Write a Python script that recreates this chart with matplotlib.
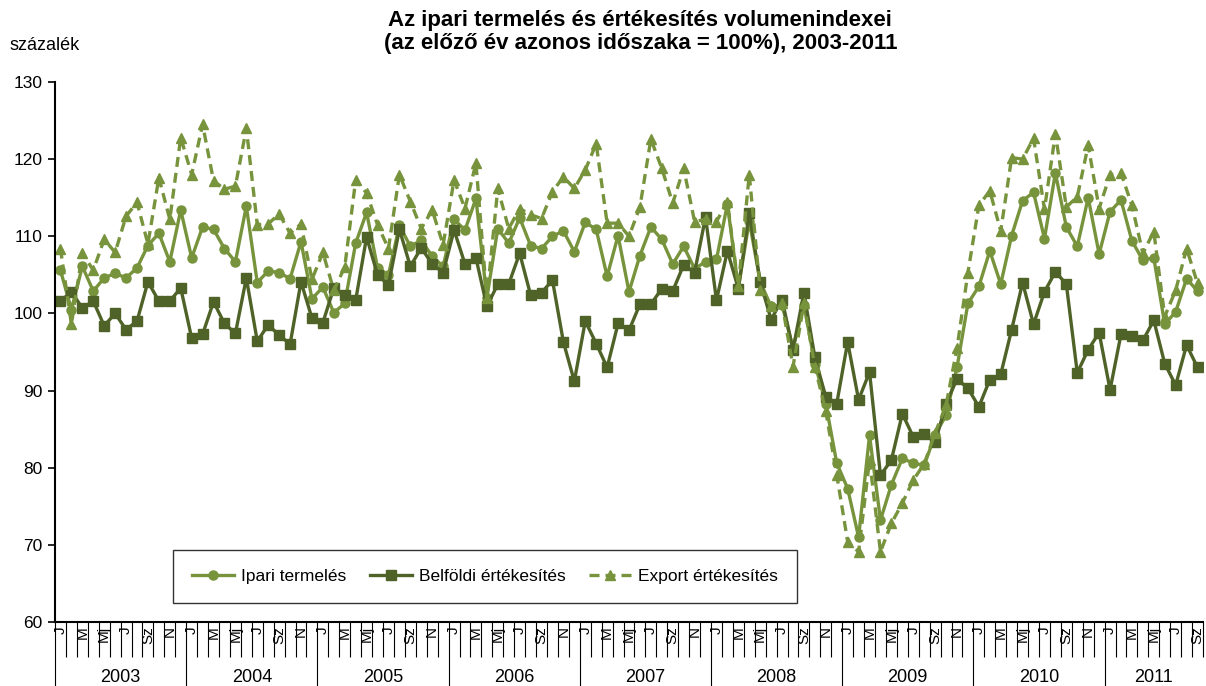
import numpy as np
import matplotlib
matplotlib.use('agg')
import matplotlib.pyplot as plt

plt.rcParams['font.family'] = ['Liberation Sans', 'DejaVu Sans']

years = ['2003', '2004', '2005', '2006', '2007', '2008', '2009', '2010', '2011']
month_labels = ['J', 'M', 'Mj', 'J', 'Sz', 'N']

# Ipari termelés, 2003 jan - 2011 szept
ipari = [105.6, 100.5, 106.1, 102.9, 104.6, 105.2, 104.6, 105.9, 108.8, 110.4, 106.7, 113.4,
         107.2, 111.2, 110.9, 108.4, 106.7, 113.9, 104.0, 105.5, 105.3, 104.5, 109.3, 101.9,
         103.4, 100.1, 101.3, 109.1, 113.1, 105.9, 105.0, 111.4, 108.7, 109.5, 107.4, 106.1,
         112.2, 110.8, 114.9, 102.0, 111.0, 109.1, 112.4, 108.8, 108.4, 110.0, 110.7, 108.0,
         111.8, 110.9, 104.8, 110.1, 102.8, 107.5, 111.2, 109.6, 106.4, 108.7, 105.8, 106.7,
         107.0, 114.2, 103.3, 112.0, 104.1, 100.9, 101.1, 95.5, 101.1, 93.5, 88.3, 80.6,
         77.3, 71.0, 84.2, 73.2, 77.8, 81.2, 80.6, 80.3, 84.3, 86.8, 93.0, 101.3,
         103.5, 108.1, 103.8, 110.1, 114.6, 115.7, 109.7, 118.2, 111.2, 108.7, 115.0, 107.7,
         113.2, 114.7, 109.4, 106.9, 107.2, 98.6, 100.2, 104.5, 102.9]

belfoldi = [101.6, 102.8, 100.7, 101.6, 98.4, 100.0, 97.9, 99.0, 104.1, 101.6, 101.6, 103.3,
            96.8, 97.3, 101.5, 98.7, 97.4, 104.6, 96.4, 98.5, 97.2, 96.0, 104.1, 99.4,
            98.8, 103.3, 102.4, 101.7, 109.9, 105.0, 103.7, 110.9, 106.1, 108.5, 106.4, 105.3,
            110.8, 106.4, 107.2, 100.9, 103.8, 103.8, 107.8, 102.4, 102.7, 104.3, 96.3, 91.2,
            99.0, 96.1, 93.0, 98.7, 97.8, 101.2, 101.2, 103.2, 102.9, 106.3, 105.3, 112.5,
            101.7, 108.1, 103.2, 113.0, 104.1, 99.2, 101.8, 95.3, 102.7, 94.3, 89.2, 88.3,
            96.3, 88.8, 92.4, 79.0, 81.0, 87.0, 84.0, 84.4, 83.3, 88.3, 91.5, 90.3,
            87.9, 91.4, 92.1, 97.9, 104.0, 98.6, 102.8, 105.4, 103.8, 92.3, 95.3, 97.5,
            90.1, 97.3, 97.1, 96.5, 99.1, 93.5, 90.7, 95.9, 93.0]

export = [108.4, 98.6, 107.8, 105.6, 109.6, 107.9, 112.6, 114.4, 109.0, 117.6, 112.2, 122.8,
          118.0, 124.5, 117.2, 116.1, 116.5, 124.0, 111.5, 111.6, 112.9, 110.4, 111.6, 104.4,
          107.9, 103.0, 106.0, 117.3, 115.6, 111.5, 108.4, 118.0, 114.5, 111.0, 113.4, 108.9,
          117.3, 113.6, 119.5, 102.0, 116.2, 111.0, 113.6, 112.8, 112.3, 115.8, 117.7, 116.2,
          118.6, 122.0, 111.7, 111.7, 110.0, 113.8, 122.6, 118.8, 114.3, 118.8, 111.9, 112.2,
          111.9, 114.5, 103.5, 118.0, 103.0, 100.9, 101.3, 93.1, 101.3, 93.1, 87.3, 79.1,
          70.4, 69.1, 81.0, 69.1, 72.8, 75.4, 78.4, 80.5, 84.5, 88.1, 95.5, 105.3,
          114.0, 115.9, 110.7, 120.2, 120.0, 122.7, 113.5, 123.3, 113.8, 115.1, 121.8, 113.6,
          118.0, 118.2, 114.0, 107.8, 110.6, 99.6, 103.0, 108.4, 103.9]

light = '#77933C'
dark = '#4F6228'

fig = plt.figure(figsize=(12.06, 6.86), dpi=100)
ax = fig.add_axes([55/1206, 64/686, 1148/1206, 540/686])

x = np.arange(len(ipari))
ax.plot(x, ipari, color=light, lw=2.4, marker='o', ms=6.5, label='Ipari termelés')
ax.plot(x, belfoldi, color=dark, lw=2.4, marker='s', ms=6.5, label='Belföldi értékesítés')
ax.plot(x, export, color=light, lw=2.4, ls=(0, (3, 1.8)), marker='^', ms=7,
        label='Export értékesítés')

ax.set_xlim(-0.5, len(ipari) - 0.5)
ax.set_ylim(60, 130)
ax.set_yticks(range(60, 131, 10))
ax.tick_params(axis='y', labelsize=12.5, length=5, width=1.2, pad=4)
for s in ['top', 'right']:
    ax.spines[s].set_visible(False)
for s in ['left', 'bottom']:
    ax.spines[s].set_linewidth(1.5)

# kategória tengely: havi elválasztók, évenkénti hosszabb vonalak
ax.set_xticks(np.arange(-0.5, len(ipari), 12))
ax.set_xticks(np.arange(-0.5, len(ipari), 1), minor=True)
ax.set_xticklabels([])
ax.tick_params(axis='x', which='major', length=46, width=0.8, color='black')
ax.tick_params(axis='x', which='minor', length=25, width=0.8, color='black')

tr = ax.get_xaxis_transform()
for i in range(0, len(ipari), 2):
    ax.text(i, -0.008, month_labels[(i % 12) // 2], transform=tr, rotation=90,
            ha='center', va='top', fontsize=11)
for k, yr in enumerate(years):
    end = min(12 * k + 11, len(ipari) - 1)
    ax.text((12 * k + end) / 2, -0.103, yr, transform=tr, ha='center', va='center',
            fontsize=13)

leg = ax.legend(loc='lower left', ncol=3, mode='expand', borderaxespad=0,
                bbox_to_anchor=(0.1028, 0.035, 0.5436, 0.098), fontsize=12.5,
                frameon=True, fancybox=False, handlelength=2.4, borderpad=1.1,
                handletextpad=0.4)
leg.get_frame().set_edgecolor('black')
leg.get_frame().set_linewidth(1.0)

fig.text(0.531, 0.985, 'Az ipari termelés és értékesítés volumenindexei\n'
         '(az előző év azonos időszaka = 100%), 2003-2011',
         ha='center', va='top', fontsize=16, fontweight='bold', linespacing=1.1)
fig.text(0.008, 0.933, 'százalék', ha='left', va='center', fontsize=13)

fig.savefig('out.png', dpi=100)
